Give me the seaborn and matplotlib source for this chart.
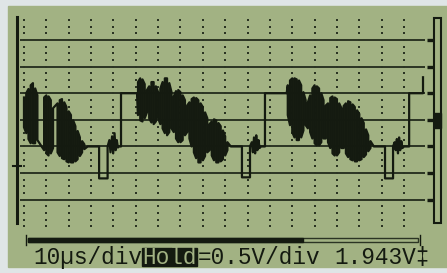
import numpy as np
import pandas as pd
import matplotlib
matplotlib.use("Agg")
import matplotlib.pyplot as plt
import seaborn as sns
from matplotlib.patches import Rectangle

# noisy burst columns: time (us), envelope top / bottom (V)
burst_t = [0, 1, 2, 3, 4, 5, 6,
           9, 10, 11, 12, 13,
           15, 16, 17, 18, 19, 20, 21, 22, 23, 24, 25, 26, 27,
           51, 52, 53, 54, 55, 56, 57, 58, 59, 60, 61, 62, 63, 64, 65, 66, 67, 68, 69, 70,
           71, 72, 73, 74, 75, 76, 77, 78, 79, 80, 81, 82, 83, 84, 85, 86, 87, 88, 89, 90, 91,
           118, 119, 120, 121, 122, 123, 124, 125, 126, 127, 128, 129, 130, 131, 132, 133,
           134, 135, 136, 137, 138, 139, 140, 141, 142, 143, 144, 145, 146, 147, 148, 149,
           150, 151, 152, 153, 154, 155]
burst_hi = [2.42, 2.50, 2.58, 2.65, 2.69, 2.59, 2.46,
            2.42, 2.46, 2.44, 2.37, 2.22,
            2.31, 2.37, 2.39, 2.33, 2.24, 2.16, 2.09, 1.99, 1.88, 1.79, 1.67, 1.60, 1.54,
            2.71, 2.78, 2.76, 2.67, 2.56, 2.63, 2.71, 2.71, 2.63, 2.52, 2.59, 2.71, 2.78, 2.78, 2.69, 2.52, 2.44, 2.54, 2.56, 2.52,
            2.46, 2.37, 2.27, 2.33, 2.39, 2.42, 2.41, 2.37, 2.31, 2.24, 2.14, 2.03, 1.92, 1.97, 2.01, 1.99, 1.94, 1.88, 1.80, 1.69, 1.58,
            2.65, 2.74, 2.78, 2.78, 2.76, 2.74, 2.65, 2.52, 2.37, 2.33, 2.46, 2.59, 2.65, 2.63, 2.59, 2.50,
            2.37, 2.27, 2.31, 2.41, 2.44, 2.42, 2.39, 2.31, 2.22, 2.26, 2.31, 2.35, 2.33, 2.29, 2.24, 2.18,
            2.11, 2.03, 1.94, 1.82, 1.71, 1.60]
burst_lo = [1.86, 1.75, 1.64, 1.56, 1.56, 1.56, 1.62,
            1.43, 1.37, 1.33, 1.37, 1.47,
            1.39, 1.32, 1.28, 1.26, 1.22, 1.20, 1.20, 1.20, 1.22, 1.26, 1.32, 1.39, 1.45,
            2.09, 1.99, 1.97, 2.03, 2.14, 2.03, 1.95, 1.92, 1.97, 2.03, 1.92, 1.84, 1.75, 1.71, 1.77, 1.84, 1.77, 1.65, 1.58, 1.58,
            1.62, 1.71, 1.77, 1.65, 1.50, 1.39, 1.28, 1.20, 1.20, 1.24, 1.32, 1.39, 1.43, 1.33, 1.24, 1.20, 1.20, 1.22, 1.26, 1.33, 1.43,
            2.09, 1.90, 1.77, 1.67, 1.62, 1.62, 1.67, 1.80, 1.90, 1.84, 1.77, 1.65, 1.56, 1.52, 1.52, 1.58,
            1.65, 1.65, 1.58, 1.47, 1.37, 1.33, 1.33, 1.39, 1.47, 1.47, 1.37, 1.30, 1.26, 1.24, 1.22, 1.22,
            1.24, 1.26, 1.30, 1.35, 1.41, 1.47]

# slow part of the signal between bursts (steps, dip, small glitch)
idle_t = [28.5, 33.6, 33.6, 37.4, 37.4, 38.2, 38.7, 39.4, 39.9, 40.5, 41.0, 41.5, 42.0, 42.5, 43.4, 43.4, 50.6,
          92.5, 97.5, 97.5, 101.1, 101.1, 101.9, 102.4, 102.9, 103.4, 103.9, 104.4, 104.9, 105.4, 106.0, 107.8, 107.8, 117.5,
          156.5, 161.5, 161.5, 165.1, 165.1, 165.8, 166.3, 166.8, 167.3, 167.8, 168.3, 168.8, 169.3, 170.0, 172.3, 172.3,
          178.5, 178.5]
idle_v = [1.50, 1.50, 0.90, 0.90, 1.50, 1.62, 1.39, 1.69, 1.37, 1.75, 1.43, 1.62, 1.48, 1.50, 1.50, 2.50, 2.50,
          1.50, 1.50, 0.92, 0.92, 1.50, 1.58, 1.39, 1.67, 1.37, 1.71, 1.43, 1.62, 1.47, 1.50, 1.50, 2.50, 2.50,
          1.50, 1.50, 0.90, 0.90, 1.50, 1.58, 1.43, 1.64, 1.37, 1.67, 1.43, 1.60, 1.47, 1.50, 1.50, 2.50,
          2.50, 2.80]

lcd = "#a2b283"
ink = "#141a10"
grid_ink = "#2b3423"
outer = "#dfe5e6"
mono = ["Liberation Mono", "DejaVu Sans Mono"]

# build one continuous trace: bursts drawn as a zig-zag between envelope values
pts = []
for i, (t, hi, lo) in enumerate(zip(burst_t, burst_hi, burst_lo)):
    pts += [(t, hi), (t, lo)] if i % 2 == 0 else [(t, lo), (t, hi)]
pts += list(zip(idle_t, idle_v))
trace = pd.DataFrame(pts, columns=["t", "v"]).sort_values("t", kind="stable")

fig = plt.figure(figsize=(4.47, 2.73), dpi=100, facecolor=outer)

# screen background and decorations, in pixel coordinates
bg = fig.add_axes([0, 0, 1, 1], zorder=0)
bg.set_xlim(0, 447)
bg.set_ylim(273, 0)
bg.set_axis_off()
bg.add_patch(Rectangle((8, 6), 439, 261, color=lcd))
bg.plot([16.5, 16.5], [17, 223], color=ink, lw=2.2)
bg.plot([13, 21], [166, 166], color=ink, lw=1.5)
bg.add_patch(Rectangle((434, 18), 7, 205, fill=False, ec=ink, lw=1.5))
bg.add_patch(Rectangle((434, 113), 7, 15, color=ink))
bg.add_patch(Rectangle((28, 238), 390, 4, fill=False, ec=grid_ink, lw=1))
bg.add_patch(Rectangle((28, 238), 275, 4, color=ink))
bg.plot([26, 26], [235, 245], color=ink, lw=1)
bg.plot([420, 420], [235, 245], color=ink, lw=1)
bg.add_patch(Rectangle((142, 248), 55, 18, color=ink))
bg.text(33, 257.5, "10µs/div", family=mono, fontsize=16.4, color=ink, va="center", ha="left")
bg.text(142.6, 257.5, "Hold", family=mono, fontsize=16.4, color=lcd, va="center", ha="left")
bg.text(197.4, 257.5, "=0.5V/div", family=mono, fontsize=16.4, color=ink, va="center", ha="left")
bg.text(334.4, 257.5, "1.943V‡", family=mono, fontsize=16.4, color=ink, va="center", ha="left")

# waveform area: 10 us/div, 0.5 V/div
ax = fig.add_axes([17 / 447, (273 - 226.3) / 273, 423 / 447, 212.9 / 273], zorder=1)
ax.set_facecolor("none")
ax.set_xlim(-3.13, 186.1)
ax.set_ylim(0, 4.0)
ax.set_axis_off()

div_t = np.arange(0, 171, 10)
sub_v = np.arange(0, 4.0, 0.125)
tt, vv = np.meshgrid(div_t, sub_v)
ax.scatter(tt.ravel(), vv.ravel(), marker="s", s=2.5, color=grid_ink, linewidths=0, zorder=1)
levels = np.arange(0.5, 3.6, 0.5)
ax.hlines(levels, -1.8, 179.5, color=grid_ink, lw=1.4, zorder=1)
ax.hlines(levels, 180.5, 183.5, color=ink, lw=2.4, zorder=1, clip_on=False)

sns.lineplot(data=trace, x="t", y="v", sort=False, estimator=None, color=ink,
             linewidth=1.6, ax=ax, zorder=3)
ax.set_axis_off()

fig.savefig("out.png", dpi=100, facecolor=outer)
